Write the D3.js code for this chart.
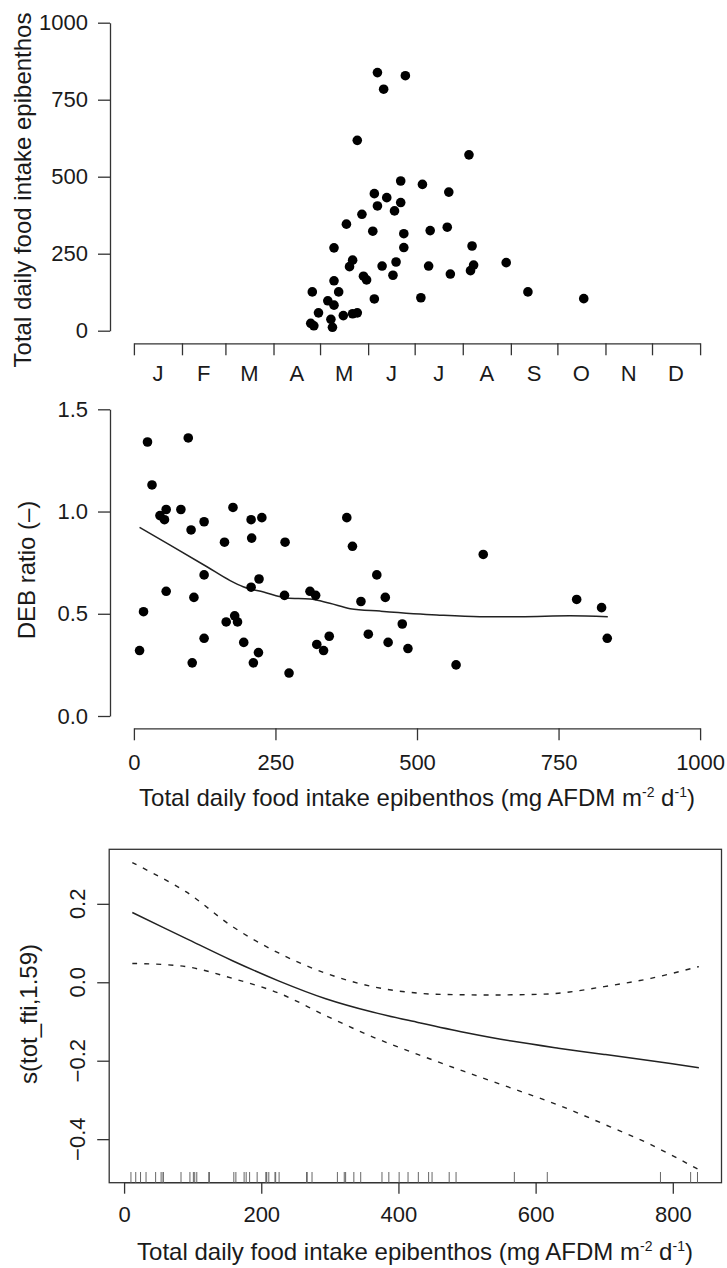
<!DOCTYPE html>
<html>
<head>
<meta charset="utf-8">
<script src="https://d3js.org/d3.v7.min.js"></script>
<style>
  body { margin: 0; background: #fff; }
  svg text { font-family: "Liberation Sans", Arial, sans-serif; fill: #1a1a1a; }
</style>
</head>
<body>
<svg id="chart" width="727" height="1268"></svg>
<script>
// ── data ────────────────────────────────────────────────────────────────────
const months      = ['J', 'F', 'M', 'A', 'M', 'J', 'J', 'A', 'S', 'O', 'N', 'D'];
const monthStarts = [0, 31, 59, 90, 120, 151, 181, 212, 243, 273, 304, 334, 365];

// panel 1: day of year vs total daily food intake
const seasonDay    = [157, 175, 161, 144, 216, 172, 186, 203, 155, 163, 172, 157, 147, 168, 137, 154, 174,
                      191, 202, 129, 174, 218, 141, 139, 160, 169, 190, 148, 150, 167, 204, 217, 219, 240,
                      129, 115, 132, 125, 129, 155, 185, 254, 290, 119, 135, 141, 144, 127, 114, 116, 128];
const seasonIntake = [838, 828, 784, 618, 571, 486, 475, 450, 445, 432, 416, 405, 378, 389, 346, 323, 315,
                      325, 336, 269, 270, 275, 229, 208, 210, 223, 210, 177, 165, 180, 184, 195, 213, 221,
                      162, 126, 126, 97, 83, 103, 107, 126, 104, 58, 49, 55, 58, 37, 24, 16, 11];

// panel 2: intake vs DEB ratio
const intake   = [24, 96, 32, 57, 46, 54, 83, 175, 124, 101, 207, 226, 160, 208, 267, 376, 386, 429, 124,
                  221, 207, 57, 106, 17, 266, 311, 321, 401, 178, 163, 183, 124, 194, 345, 323, 335, 414,
                  10, 103, 220, 211, 274, 617, 444, 474, 449, 484, 569, 782, 826, 836];
const debRatio = [1.34, 1.36, 1.13, 1.01, 0.98, 0.96, 1.01, 1.02, 0.95, 0.91, 0.96, 0.97, 0.85, 0.87, 0.85,
                  0.97, 0.83, 0.69, 0.69, 0.67, 0.63, 0.61, 0.58, 0.51, 0.59, 0.61, 0.59, 0.56, 0.49, 0.46,
                  0.46, 0.38, 0.36, 0.39, 0.35, 0.32, 0.40, 0.32, 0.26, 0.31, 0.26, 0.21, 0.79, 0.58, 0.45,
                  0.36, 0.33, 0.25, 0.57, 0.53, 0.38];
const smoothIntake = [10, 64, 129, 170, 193, 229, 270, 311, 346, 382, 435, 535, 611, 682, 770, 837];
const smoothRatio  = [0.923, 0.836, 0.730, 0.662, 0.632, 0.606, 0.577, 0.572, 0.551, 0.525, 0.513, 0.494,
                      0.486, 0.486, 0.490, 0.486];

// panel 3: GAM smooth s(tot_fti,1.59) with confidence band
const gamX     = [12, 90, 158, 226, 294, 362, 430, 497, 565, 633, 700, 768, 838];
const gamFit   = [0.178, 0.112, 0.055, 0.003, -0.042, -0.076, -0.103, -0.128, -0.150, -0.168, -0.184, -0.200, -0.218];
const gamUpper = [0.305, 0.231, 0.142, 0.074, 0.023, -0.011, -0.028, -0.032, -0.032, -0.028, -0.011, 0.010, 0.040];
const gamLower = [0.048, 0.040, 0.010, -0.028, -0.085, -0.139, -0.185, -0.228, -0.270, -0.313, -0.362, -0.414, -0.478];

// ── setup ───────────────────────────────────────────────────────────────────
const svg = d3.select('#chart');
const AXIS = '#333';
const TICK_FONT = 22;
const TITLE_FONT = 24;

function styleAxis(g) {
  g.selectAll('path.domain').attr('stroke', AXIS).attr('stroke-width', 1.3);
  g.selectAll('.tick line').attr('stroke', AXIS).attr('stroke-width', 1.3);
  g.selectAll('.tick text').attr('font-size', TICK_FONT).attr('fill', '#1a1a1a')
    .attr('font-family', '"Liberation Sans", Arial, sans-serif');
}

function intakeTitle(sel, x, y) {
  const t = sel.append('text').attr('x', x).attr('y', y)
    .attr('text-anchor', 'middle').attr('font-size', TITLE_FONT);
  t.append('tspan').text('Total daily food intake epibenthos (mg AFDM m');
  t.append('tspan').attr('dy', -9).attr('font-size', 14).text('-2');
  t.append('tspan').attr('dy', 9).text(' d');
  t.append('tspan').attr('dy', -9).attr('font-size', 14).text('-1');
  t.append('tspan').attr('dy', 9).text(')');
}

function yTitle(text, x, y) {
  svg.append('text')
    .attr('transform', `translate(${x},${y}) rotate(-90)`)
    .attr('text-anchor', 'middle')
    .attr('font-size', TITLE_FONT)
    .text(text);
}

// ── panel 1 ─────────────────────────────────────────────────────────────────
const x1 = d3.scaleLinear().domain([0, 365]).range([133.9, 700.1]);
const y1 = d3.scaleLinear().domain([0, 1000]).range([330.7, 22.7]);

svg.append('g').attr('transform', 'translate(110,0)')
  .call(d3.axisLeft(y1).tickValues([0, 250, 500, 750, 1000]).tickFormat(d3.format('d'))
    .tickSize(12).tickSizeOuter(0).tickPadding(10))
  .call(styleAxis);

svg.append('g').attr('transform', 'translate(0,343.3)')
  .call(d3.axisBottom(x1).tickValues(monthStarts).tickFormat('').tickSize(12).tickSizeOuter(0))
  .call(styleAxis);

svg.append('g').selectAll('text')
  .data(months)
  .join('text')
  .attr('x', (d, i) => x1((monthStarts[i] + monthStarts[i + 1]) / 2))
  .attr('y', 381)
  .attr('text-anchor', 'middle')
  .attr('font-size', TICK_FONT)
  .text(d => d);

svg.append('g').selectAll('circle')
  .data(seasonDay)
  .join('circle')
  .attr('cx', d => x1(d))
  .attr('cy', (d, i) => y1(seasonIntake[i]))
  .attr('r', 4.8)
  .attr('fill', '#000');

yTitle('Total daily food intake epibenthos', 31, 190);

// ── panel 2 ─────────────────────────────────────────────────────────────────
const x2 = d3.scaleLinear().domain([0, 1000]).range([133.9, 700.1]);
const y2 = d3.scaleLinear().domain([0, 1.5]).range([716, 409.3]);

svg.append('g').attr('transform', 'translate(110,0)')
  .call(d3.axisLeft(y2).tickValues([0, 0.5, 1, 1.5]).tickFormat(d3.format('.1f'))
    .tickSize(12).tickSizeOuter(0).tickPadding(10))
  .call(styleAxis);

svg.append('g').attr('transform', 'translate(0,728.3)')
  .call(d3.axisBottom(x2).tickValues([0, 250, 500, 750, 1000]).tickFormat(d3.format('d'))
    .tickSize(12).tickSizeOuter(0).tickPadding(14))
  .call(styleAxis);

svg.append('path')
  .datum(smoothIntake)
  .attr('fill', 'none')
  .attr('stroke', '#222')
  .attr('stroke-width', 1.5)
  .attr('d', d3.line().x(d => x2(d)).y((d, i) => y2(smoothRatio[i])).curve(d3.curveMonotoneX));

svg.append('g').selectAll('circle')
  .data(intake)
  .join('circle')
  .attr('cx', d => x2(d))
  .attr('cy', (d, i) => y2(debRatio[i]))
  .attr('r', 4.8)
  .attr('fill', '#000');

yTitle('DEB ratio (\u2013)', 35, 570);
intakeTitle(svg, 417, 806);

// ── panel 3 ─────────────────────────────────────────────────────────────────
const x3 = d3.scaleLinear().domain([-21.7, 871]).range([109.2, 721.5]);
const y3 = d3.scaleLinear().domain([-0.511, 0.339]).range([1182.7, 849.3]);

svg.append('rect')
  .attr('x', x3.range()[0]).attr('y', y3.range()[1])
  .attr('width', x3.range()[1] - x3.range()[0])
  .attr('height', y3.range()[0] - y3.range()[1])
  .attr('fill', 'none').attr('stroke', AXIS).attr('stroke-width', 1.3);

const xAxis3 = svg.append('g').attr('transform', 'translate(0,1182.7)')
  .call(d3.axisBottom(x3).tickValues([0, 200, 400, 600, 800]).tickSize(11).tickPadding(13))
  .call(styleAxis);
xAxis3.select('path.domain').remove();
// R draws the axis line only between first and last tick
svg.append('line')
  .attr('x1', x3(0)).attr('x2', x3(800)).attr('y1', 1182.7).attr('y2', 1182.7)
  .attr('stroke', AXIS).attr('stroke-width', 1.3);

const yTicks3 = [-0.4, -0.2, 0, 0.2];
const yAxis3 = svg.append('g').attr('transform', 'translate(109.2,0)')
  .call(d3.axisLeft(y3).tickValues(yTicks3).tickFormat('').tickSize(12))
  .call(styleAxis);
yAxis3.select('path.domain').remove();

svg.append('g').selectAll('text')
  .data(yTicks3)
  .join('text')
  .attr('transform', d => `translate(85,${y3(d)}) rotate(-90)`)
  .attr('text-anchor', 'middle')
  .attr('font-size', TICK_FONT)
  .text(d => d3.format('.1f')(d));

// rug of observed intake values
svg.append('g').selectAll('line')
  .data(intake)
  .join('line')
  .attr('x1', d => x3(d)).attr('x2', d => x3(d))
  .attr('y1', 1182.7).attr('y2', 1172)
  .attr('stroke', '#666').attr('stroke-width', 1);

const gamLine = vals => d3.line().x(d => x3(d)).y((d, i) => y3(vals[i])).curve(d3.curveCatmullRom);

svg.append('path').datum(gamX)
  .attr('fill', 'none').attr('stroke', '#222').attr('stroke-width', 1.5)
  .attr('d', gamLine(gamFit));

[gamUpper, gamLower].forEach(vals => {
  svg.append('path').datum(gamX)
    .attr('fill', 'none').attr('stroke', '#222').attr('stroke-width', 1.4)
    .attr('stroke-dasharray', '5,7')
    .attr('d', gamLine(vals));
});

yTitle('s(tot_fti,1.59)', 37, 1014);
intakeTitle(svg, 415, 1260);
</script>
</body>
</html>
